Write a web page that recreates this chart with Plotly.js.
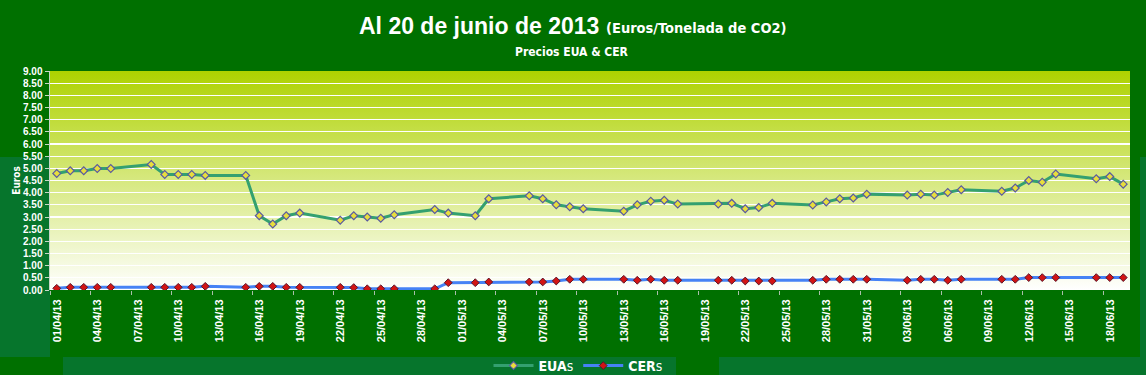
<!DOCTYPE html>
<html>
<head>
<meta charset="utf-8">
<script src="https://cdn.plot.ly/plotly-3.0.1.min.js"></script>
<style>html,body{margin:0;padding:0;background:#007000;}#chart{width:1146px;height:375px;}</style>
</head>
<body>
<div id="chart"></div>
<script>
// ---- Data ----
const dates = [
  '2013-04-01','2013-04-02','2013-04-03','2013-04-04','2013-04-05',
  '2013-04-08','2013-04-09','2013-04-10','2013-04-11','2013-04-12',
  '2013-04-15','2013-04-16','2013-04-17','2013-04-18','2013-04-19',
  '2013-04-22','2013-04-23','2013-04-24','2013-04-25','2013-04-26',
  '2013-04-29','2013-04-30',
  '2013-05-02','2013-05-03',
  '2013-05-06','2013-05-07','2013-05-08','2013-05-09','2013-05-10',
  '2013-05-13','2013-05-14','2013-05-15','2013-05-16','2013-05-17',
  '2013-05-20','2013-05-21','2013-05-22','2013-05-23','2013-05-24',
  '2013-05-27','2013-05-28','2013-05-29','2013-05-30','2013-05-31',
  '2013-06-03','2013-06-04','2013-06-05','2013-06-06','2013-06-07',
  '2013-06-10','2013-06-11','2013-06-12','2013-06-13','2013-06-14',
  '2013-06-17','2013-06-18','2013-06-19'
];
const euaValues = [
  4.79,4.90,4.90,4.99,4.99,
  5.16,4.75,4.75,4.75,4.71,
  4.71,3.05,2.71,3.05,3.16,
  2.87,3.05,3.00,2.95,3.09,
  3.31,3.16,
  3.05,3.75,
  3.87,3.75,3.50,3.42,3.34,
  3.24,3.50,3.65,3.69,3.53,
  3.53,3.56,3.34,3.39,3.56,
  3.49,3.62,3.75,3.78,3.94,
  3.90,3.94,3.90,4.01,4.12,
  4.06,4.19,4.50,4.43,4.77,
  4.57,4.66,4.35
];
const cerValues = [
  0.07,0.11,0.11,0.11,0.11,
  0.11,0.11,0.11,0.11,0.15,
  0.11,0.15,0.15,0.11,0.11,
  0.11,0.10,0.05,0.05,0.05,
  0.05,0.30,
  0.30,0.33,
  0.33,0.33,0.37,0.44,0.44,
  0.44,0.40,0.44,0.40,0.40,
  0.40,0.40,0.37,0.37,0.37,
  0.40,0.44,0.44,0.44,0.44,
  0.40,0.44,0.44,0.40,0.44,
  0.44,0.44,0.51,0.51,0.51,
  0.51,0.51,0.51
];
const tickLabels = [
  '01/04/13','04/04/13','07/04/13','10/04/13','13/04/13','16/04/13','19/04/13',
  '22/04/13','25/04/13','28/04/13','01/05/13','04/05/13','07/05/13','10/05/13',
  '13/05/13','16/05/13','19/05/13','22/05/13','25/05/13','28/05/13','31/05/13',
  '03/06/13','06/06/13','09/06/13','12/06/13','15/06/13','18/06/13'
];
const seriesNames = ['<b>EUA</b>s', '<b>CER</b>s'];
const titleMain = 'Al 20 de junio de 2013';
const titleUnits = '(Euros/Tonelada de CO2)';
const subTitle = 'Precios EUA & CER';
const yTitle = 'Euros';

// ---- Layout helpers ----
const W = 1146, H = 375;
const M = {l: 50, r: 16, t: 71, b: 85};
const PW = W - M.l - M.r, PH = H - M.t - M.b;
const px = x => (x - M.l) / PW;
const py = y => (H - M.b - y) / PH;

// tick marks at day boundaries (half a day before each labelled date)
const tickPos = tickLabels.map(s => {
  const [d, m, y] = s.split('/');
  const t = Date.UTC(2000 + Number(y), Number(m) - 1, Number(d)) - 12 * 3600 * 1000;
  return new Date(t).toISOString().slice(0, 19).replace('T', ' ');
});

const NARROW = '"Liberation Sans Narrow", "Arial Narrow", "DejaVu Sans Condensed", sans-serif';
const SANS = '"Liberation Sans", Arial, sans-serif';
const DARK = 'rgb(0,112,0)';
const LIGHT = 'rgb(6,117,44)';

const gradSvg = "<svg xmlns='http://www.w3.org/2000/svg' width='100' height='100' viewBox='0 0 100 100' preserveAspectRatio='none'>" +
  "<defs><linearGradient id='g' x1='0' y1='0' x2='0' y2='1'>" +
  "<stop offset='0' stop-color='rgb(174,210,0)'/><stop offset='1' stop-color='rgb(255,255,255)'/>" +
  "</linearGradient></defs><rect x='0' y='0' width='100' height='100' fill='url(#g)'/></svg>";

const traces = [
  {
    x: dates, y: euaValues, name: seriesNames[0], type: 'scatter', mode: 'lines+markers',
    line: {color: 'rgb(52,160,112)', width: 3},
    marker: {symbol: 'diamond', size: 6, color: 'rgb(232,222,60)', line: {color: 'rgb(90,90,160)', width: 1.2}}
  },
  {
    x: dates, y: cerValues, name: seriesNames[1], type: 'scatter', mode: 'lines+markers',
    line: {color: 'rgb(70,130,245)', width: 3},
    marker: {symbol: 'diamond', size: 6, color: 'rgb(210,20,20)', line: {color: 'rgb(90,20,40)', width: 1}}
  }
];

const rect = (x0, x1, y0, y1, color) => ({
  type: 'rect', xref: 'paper', yref: 'paper', layer: 'below',
  x0: px(x0), x1: px(x1), y0: py(y1), y1: py(y0),
  fillcolor: color, line: {width: 0}
});

const layout = {
  width: W, height: H,
  margin: M,
  paper_bgcolor: DARK,
  plot_bgcolor: 'rgba(0,0,0,0)',
  showlegend: true,
  legend: {
    orientation: 'h', xref: 'container', yref: 'container',
    x: 578 / W, xanchor: 'center', y: 1 - 366 / H, yanchor: 'middle',
    bgcolor: 'rgba(0,0,0,0)', font: {family: NARROW, size: 14, color: '#ffffff'},
    itemwidth: 40, tracegroupgap: 0
  },
  xaxis: {
    type: 'date',
    range: ['2013-03-31 12:00', '2013-06-19 12:00'],
    tickvals: tickPos, ticktext: tickLabels,
    ticklabelshift: 7,
    tickangle: -90,
    tickfont: {family: SANS, size: 11, color: '#ffffff', weight: 'bold'},
    ticks: 'outside', ticklen: 4, tickcolor: 'rgb(170,190,170)', tickwidth: 1,
    showgrid: false, zeroline: false, showline: false,
    automargin: false, fixedrange: true
  },
  yaxis: {
    range: [0, 9], dtick: 0.5, tick0: 0, tickformat: '.2f',
    tickfont: {family: SANS, size: 10, color: '#ffffff', weight: 'bold'},
    ticks: 'outside', ticklen: 4, tickcolor: 'rgb(200,215,200)',
    showgrid: true, gridcolor: '#ffffff', gridwidth: 1.3,
    zeroline: false,
    showline: true, linecolor: 'rgb(200,215,200)', linewidth: 1.5,
    title: {text: yTitle, font: {family: NARROW, size: 10, color: '#ffffff', weight: 'bold'}, standoff: 0},
    automargin: false, fixedrange: true
  },
  images: [{
    source: 'data:image/svg+xml;base64,' + btoa(gradSvg),
    xref: 'paper', yref: 'paper', x: 0, y: 1, sizex: 1, sizey: 1,
    xanchor: 'left', yanchor: 'top', sizing: 'stretch', layer: 'below'
  }],
  shapes: [
    rect(0, 50, 157, 357, LIGHT),
    rect(63, 676, 357, 375, LIGHT),
    rect(719, 1146, 357, 375, LIGHT),
    rect(1140, 1146, 157, 357, LIGHT)
  ],
  annotations: [
    {
      xref: 'paper', yref: 'paper', x: px(601), y: py(26), xanchor: 'right', yanchor: 'middle',
      showarrow: false, text: titleMain,
      font: {family: SANS, size: 23, color: '#ffffff', weight: 'bold'}
    },
    {
      xref: 'paper', yref: 'paper', x: px(604), y: py(28), xanchor: 'left', yanchor: 'middle',
      showarrow: false, text: titleUnits,
      font: {family: NARROW, size: 14.5, color: '#ffffff', weight: 'bold'}
    },
    {
      xref: 'paper', yref: 'paper', x: px(572), y: py(52), xanchor: 'center', yanchor: 'middle',
      showarrow: false, text: subTitle,
      font: {family: NARROW, size: 12, color: '#ffffff', weight: 'bold'}
    }
  ]
};

Plotly.newPlot('chart', traces, layout, {displayModeBar: false, staticPlot: true});
</script>
</body>
</html>
